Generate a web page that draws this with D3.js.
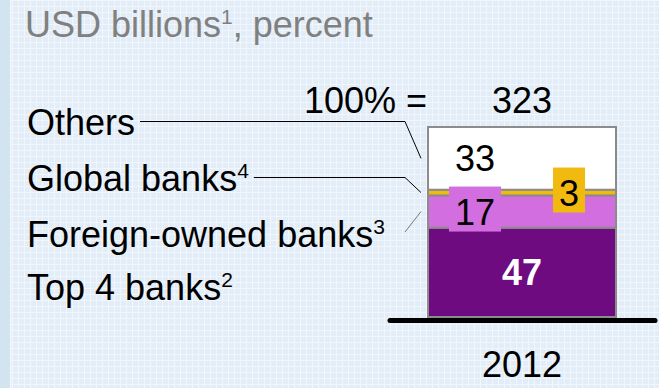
<!DOCTYPE html>
<html>
<head>
<meta charset="utf-8">
<script src="https://cdn.jsdelivr.net/npm/d3@7"></script>
<style>
  body { margin: 0; }
  svg { display: block; font-family: "Liberation Sans", Arial, sans-serif; }
</style>
</head>
<body>
<svg id="chart"></svg>
<script>
const width = 659;
const height = 388;

// data
const years = ["2012"];
const segments = ["Top 4 banks", "Foreign-owned banks", "Global banks", "Others"];
const footnotes = ["2", "3", "4", ""];
const shares = [47, 17, 3, 33];
const total = 323;
const colors = ["#6e0b80", "#d36ee0", "#f2b90f", "#ffffff"];

const fs = "36px";
const supFs = "21px";

const svg = d3.select("#chart")
  .attr("width", width)
  .attr("height", height);

// background with faint grid
const defs = svg.append("defs");
const pat = defs.append("pattern")
  .attr("id", "grid")
  .attr("width", 6)
  .attr("height", 6)
  .attr("patternUnits", "userSpaceOnUse");
pat.append("rect").attr("width", 6).attr("height", 6).attr("fill", "#e2edf7");
pat.append("path").attr("d", "M0,0.5H6M0.5,0V6").attr("stroke", "#f0f6fb").attr("stroke-width", 1);

svg.append("rect").attr("width", width).attr("height", height).attr("fill", "url(#grid)");
svg.append("rect").attr("width", 10).attr("height", height).attr("fill", "#d3e4f1");
svg.append("rect").attr("x", 10).attr("width", 1).attr("height", height).attr("fill", "#f4f8fc");

// title
const title = svg.append("text")
  .attr("x", 25)
  .attr("y", 37)
  .attr("fill", "#808080")
  .style("font-size", fs);
title.append("tspan").text("USD billions");
title.append("tspan").attr("dy", -13).style("font-size", supFs).text("1");
title.append("tspan").attr("dy", 13).text(", percent");

// scales
const x = d3.scaleBand()
  .domain(years)
  .range([428, 616])
  .padding(0);

const y = d3.scaleLinear()
  .domain([0, 100])
  .range([317, 127]);

const rows = [Object.fromEntries([["year", years[0]], ...segments.map((s, i) => [s, shares[i]])])];
const stack = d3.stack().keys(segments)(rows);

const bw = x.bandwidth();
const bx = x(years[0]);

// bar segments
svg.append("g")
  .selectAll("rect")
  .data(stack)
  .enter()
  .append("rect")
  .attr("x", bx)
  .attr("y", d => y(d[0][1]))
  .attr("width", bw)
  .attr("height", d => y(d[0][0]) - y(d[0][1]))
  .attr("fill", (d, i) => colors[i])
  .attr("stroke", "#8c8c8c")
  .attr("stroke-width", 2);

// value labels
const labelPos = [0.5, 0.25, 0.75, 0.25];
const labels = svg.append("g");
stack.forEach((s, i) => {
  const mid = (y(s[0][0]) + y(s[0][1])) / 2;
  const g = labels.append("g");
  const t = g.append("text")
    .attr("x", bx + bw * labelPos[i])
    .attr("y", mid + 13)
    .attr("text-anchor", "middle")
    .attr("fill", i === 0 ? "#ffffff" : "#000000")
    .style("font-size", fs)
    .style("font-weight", i === 0 ? "bold" : "normal")
    .text(shares[i]);
  if (i === 1 || i === 2) {
    const b = t.node().getBBox();
    g.insert("rect", "text")
      .attr("x", b.x - 6)
      .attr("y", b.y - 5)
      .attr("width", b.width + 12)
      .attr("height", b.height + 4)
      .attr("fill", colors[i]);
  }
});

// baseline
svg.append("line")
  .attr("x1", 390)
  .attr("x2", 655)
  .attr("y1", 320.5)
  .attr("y2", 320.5)
  .attr("stroke", "#000")
  .attr("stroke-width", 5)
  .attr("stroke-linecap", "round");

// year label
svg.append("text")
  .attr("x", bx + bw / 2)
  .attr("y", 377)
  .attr("text-anchor", "middle")
  .style("font-size", fs)
  .text(years[0]);

// total
svg.append("text")
  .attr("x", 427)
  .attr("y", 113)
  .attr("text-anchor", "end")
  .style("font-size", fs)
  .text("100% =");
svg.append("text")
  .attr("x", bx + bw / 2)
  .attr("y", 113)
  .attr("text-anchor", "middle")
  .style("font-size", fs)
  .text(total);

// legend labels with leader lines
const legendOrder = [3, 2, 1, 0];
const legendY = [135, 191, 247, 300];
legendOrder.forEach((si, k) => {
  const t = svg.append("text")
    .attr("x", 27)
    .attr("y", legendY[k])
    .style("font-size", fs);
  t.append("tspan").text(segments[si]);
  if (footnotes[si]) {
    t.append("tspan").attr("dy", -13).style("font-size", supFs).text(footnotes[si]);
  }
  const s = stack[si];
  const mid = (y(s[0][0]) + y(s[0][1])) / 2;
  const endX = bx - 7;
  if (si === 3 || si === 2) {
    const tw = t.node().getComputedTextLength();
    const ly = legendY[k] - 13.5;
    svg.append("path")
      .attr("d", `M${27 + tw + 5},${ly}H${endX - 16}L${endX},${mid}`)
      .attr("fill", "none")
      .attr("stroke", "#000")
      .attr("stroke-width", 1);
  } else if (si === 1) {
    svg.append("path")
      .attr("d", `M${endX - 16},${legendY[k] - 15}L${endX},${mid}`)
      .attr("fill", "none")
      .attr("stroke", "#777")
      .attr("stroke-width", 1);
  }
});
</script>
</body>
</html>
